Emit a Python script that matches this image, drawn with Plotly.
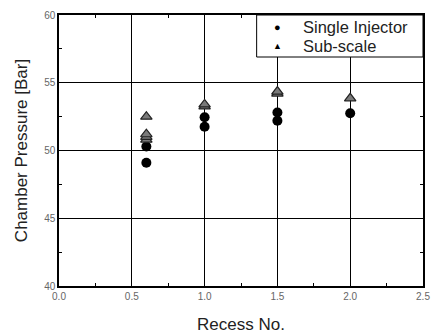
import plotly.graph_objects as go

# Data
single_x = [0.6, 0.6, 1.0, 1.0, 1.5, 1.5, 2.0]
single_y = [49.1, 50.3, 51.75, 52.45, 52.2, 52.8, 52.75]
sub_x = [0.6, 0.6, 0.6, 0.6, 1.0, 1.0, 1.5, 1.5, 2.0]
sub_y = [50.8, 51.0, 51.2, 52.5, 53.25, 53.4, 54.2, 54.35, 53.85]

x_ticks = [0.0, 0.5, 1.0, 1.5, 2.0, 2.5]
x_labels = ["0.0", "0.5", "1.0", "1.5", "2.0", "2.5"]
y_ticks = [40, 45, 50, 55, 60]
legend_names = ["Single Injector", "Sub-scale"]
legend_symbols = ["●", "▲"]

fig = go.Figure()
fig.add_trace(go.Scatter(
    x=single_x, y=single_y, mode="markers", name=legend_names[0],
    marker=dict(symbol="circle", size=10, color="black"), showlegend=False,
))
fig.add_trace(go.Scatter(
    x=sub_x, y=sub_y, mode="markers", name=legend_names[1],
    marker=dict(symbol="triangle-up", size=10, color="#7a7a7a",
                line=dict(color="#222", width=1.2)), showlegend=False,
))

axis_common = dict(
    showline=True, linecolor="black", linewidth=1.5, mirror="ticks",
    ticks="inside", ticklen=5, tickcolor="black",
    showgrid=True, gridcolor="black", gridwidth=1,
    zeroline=False, automargin=False,
    tickfont=dict(family="Liberation Sans, Arial", size=10, color="#666"),
)

# legend box drawn as a shape (covers grid lines like the original)
fig.add_shape(type="rect", xref="paper", yref="paper",
              x0=0.543, x1=1.0, y0=0.845, y1=1.0,
              fillcolor="white", line=dict(color="black", width=1), layer="above")
leg_y = [0.957, 0.884]
for name, sym, yy in zip(legend_names, legend_symbols, leg_y):
    fig.add_annotation(xref="paper", yref="paper", x=0.599, y=yy, text=sym,
                       showarrow=False, font=dict(size=11 if sym == "●" else 9, color="black"),
                       xanchor="center", yanchor="middle")
    fig.add_annotation(xref="paper", yref="paper", x=0.665, y=yy, text=name,
                       showarrow=False, font=dict(size=16.5, color="#222"),
                       xanchor="left", yanchor="middle")

fig.update_layout(
    width=435, height=334,
    margin=dict(l=59, r=12, t=15, b=48),
    paper_bgcolor="white", plot_bgcolor="white",
    font=dict(family="Liberation Sans, Arial", color="#222"),
    xaxis=dict(range=[0, 2.5], tickvals=x_ticks, ticktext=x_labels,
               minor=dict(ticks="inside", ticklen=3, dtick=0.25, tickcolor="black", showgrid=False),
               title=dict(text="Recess No.", font=dict(size=17, color="#222"), standoff=18),
               **axis_common),
    yaxis=dict(range=[40, 60], tickvals=y_ticks,
               minor=dict(ticks="inside", ticklen=3, dtick=2.5, tickcolor="black", showgrid=False),
               title=dict(text="Chamber Pressure [Bar]", font=dict(size=17, color="#222"), standoff=12),
               **axis_common),
    showlegend=False,
)

fig.write_html("out.html")
